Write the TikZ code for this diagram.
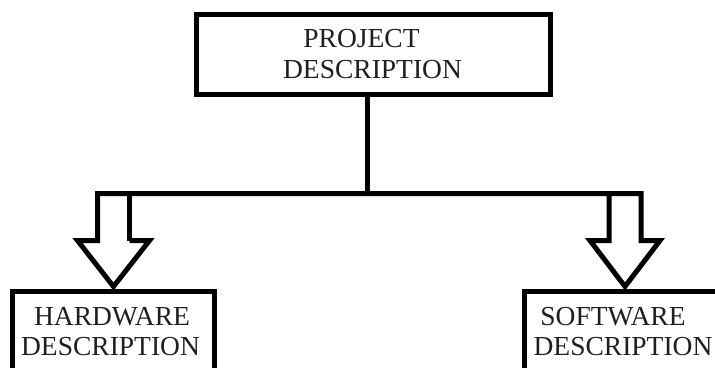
\documentclass[tikz,border=0pt]{standalone}
\usepackage{fontspec}
\setmainfont{Liberation Serif}
\usetikzlibrary{calc}
\begin{document}
\begin{tikzpicture}[x=1pt,y=-1pt,
  box/.style={draw=black, rectangle, inner sep=0pt, line width=5pt},
  lbl/.style={anchor=base, font=\fontsize{27.5}{31}\selectfont, inner sep=0pt, text=black!88},
  conn/.style={draw=black, line width=5pt, line join=miter}]
\clip (0,0) rectangle (715,367);
\fill[white] (0,0) rectangle (715,367);
% boxes
\node[box, minimum width=354pt, minimum height=80pt] (top) at (373,54.5) {};
\node[box, minimum width=202pt, minimum height=80pt] (hw) at (113.5,331) {};
\node[box, minimum width=202pt, minimum height=80pt] (sw) at (625,331) {};
% texts
\node[lbl] (t1) at (361.5,47) {PROJECT};
\node[lbl] (t2) at (372.5,78) {DESCRIPTION};
\node[lbl] (h1) at (112,325) {HARDWARE};
\node[lbl] (h2) at (110.5,355) {DESCRIPTION};
\node[lbl] (s1) at (613,325) {SOFTWARE};
\node[lbl] (s2) at (623,355) {DESCRIPTION};
% connector
\coordinate (j) at (367,193.5);
\draw[conn] (j |- top.south) -- (j);
\coordinate (ltip) at ($(hw.north)+(0,-2)$);
\coordinate (rtip) at ($(sw.north)+(0,-2)$);
\coordinate (lsl) at ($(ltip)+(-16,-46)$);
\coordinate (lsr) at ($(ltip)+(16,-46)$);
\coordinate (rsl) at ($(rtip)+(-16,-46)$);
\coordinate (rsr) at ($(rtip)+(16,-46)$);
\draw[conn] (lsr) -- ($(ltip)+(36,-46)$) -- (ltip) -- ($(ltip)+(-36,-46)$) -- (lsl)
  -- (lsl |- j) -- (rsr |- j) -- (rsr) -- ($(rtip)+(35,-46)$) -- (rtip)
  -- ($(rtip)+(-35,-46)$) -- (rsl) -- (rsl |- j);
\draw[conn] (lsr) -- (lsr |- j);
\end{tikzpicture}
\end{document}
